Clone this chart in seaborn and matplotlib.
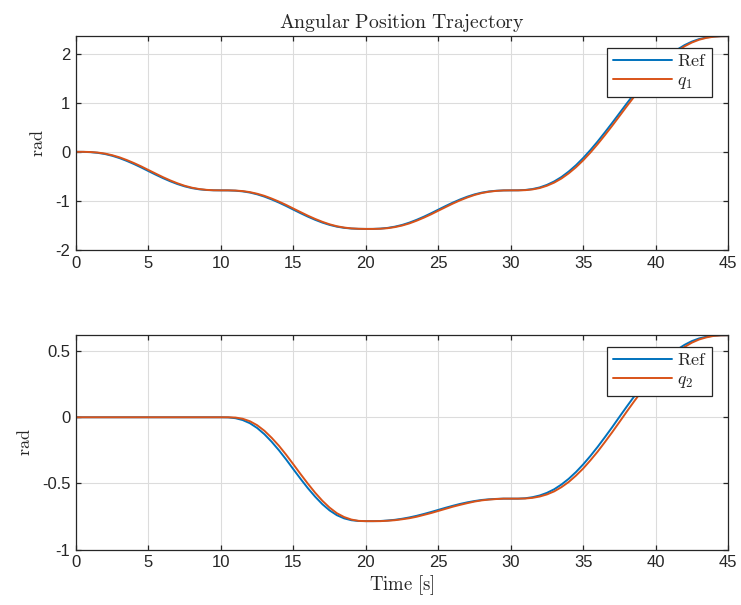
import matplotlib
matplotlib.use("Agg")
import matplotlib.pyplot as plt
import seaborn as sns
import pandas as pd
import numpy as np

# Sample times [s], every 0.5 s
time_s = np.arange(0, 45.5, 0.5)

# Joint 1: reference and measured angle [rad]
ref_q1 = [0.000, -0.001, -0.007, -0.021, -0.045, -0.081, -0.128, -0.185, -0.249, -0.319,
          -0.393, -0.466, -0.536, -0.600, -0.657, -0.704, -0.740, -0.764, -0.778, -0.784,
          -0.785, -0.786, -0.792, -0.806, -0.830, -0.866, -0.913, -0.970, -1.034, -1.104,
          -1.178, -1.251, -1.321, -1.385, -1.442, -1.489, -1.525, -1.549, -1.563, -1.569,
          -1.571, -1.570, -1.564, -1.550, -1.525, -1.490, -1.443, -1.386, -1.322, -1.252,
          -1.178, -1.105, -1.035, -0.971, -0.914, -0.867, -0.831, -0.807, -0.793, -0.786,
          -0.785, -0.784, -0.777, -0.758, -0.725, -0.673, -0.603, -0.513, -0.402, -0.273,
          -0.126, 0.037, 0.212, 0.398, 0.589, 0.786, 0.983, 1.174, 1.360, 1.535,
          1.698, 1.845, 1.974, 2.085, 2.175, 2.245, 2.297, 2.330, 2.349, 2.356,
          2.357]
q1 = [0.000, 0.000, -0.004, -0.015, -0.036, -0.069, -0.112, -0.167, -0.229, -0.297,
      -0.371, -0.444, -0.516, -0.582, -0.641, -0.692, -0.731, -0.758, -0.775, -0.783,
      -0.785, -0.785, -0.789, -0.800, -0.821, -0.854, -0.897, -0.952, -1.014, -1.082,
      -1.156, -1.229, -1.301, -1.367, -1.426, -1.477, -1.516, -1.543, -1.560, -1.568,
      -1.571, -1.571, -1.567, -1.556, -1.534, -1.502, -1.459, -1.404, -1.342, -1.274,
      -1.200, -1.127, -1.055, -0.989, -0.930, -0.879, -0.840, -0.813, -0.796, -0.787,
      -0.785, -0.785, -0.781, -0.766, -0.738, -0.691, -0.627, -0.543, -0.438, -0.315,
      -0.173, -0.014, 0.158, 0.341, 0.531, 0.727, 0.925, 1.117, 1.306, 1.484,
      1.651, 1.803, 1.938, 2.055, 2.151, 2.227, 2.284, 2.322, 2.345, 2.355,
      2.357]

# Joint 2: reference and measured angle [rad]
ref_q2 = [0.000, 0.000, 0.000, 0.000, 0.000, 0.000, 0.000, 0.000, 0.000, 0.000,
          0.000, 0.000, 0.000, 0.000, 0.000, 0.000, 0.000, 0.000, 0.000, 0.000,
          0.000, -0.001, -0.007, -0.021, -0.045, -0.081, -0.128, -0.185, -0.249, -0.319,
          -0.393, -0.466, -0.536, -0.600, -0.657, -0.704, -0.740, -0.764, -0.778, -0.784,
          -0.785, -0.785, -0.784, -0.780, -0.775, -0.767, -0.757, -0.745, -0.731, -0.716,
          -0.700, -0.684, -0.669, -0.655, -0.643, -0.633, -0.625, -0.620, -0.617, -0.615,
          -0.615, -0.615, -0.612, -0.604, -0.591, -0.571, -0.544, -0.508, -0.465, -0.414,
          -0.356, -0.292, -0.223, -0.150, -0.075, 0.003, 0.080, 0.155, 0.228, 0.297,
          0.361, 0.419, 0.470, 0.513, 0.548, 0.576, 0.596, 0.609, 0.617, 0.620,
          0.620]
q2 = [0.000, 0.000, 0.000, 0.000, 0.000, 0.000, 0.000, 0.000, 0.000, 0.000,
      0.000, 0.000, 0.000, 0.000, 0.000, 0.000, 0.000, 0.000, 0.000, 0.000,
      0.000, 0.000, -0.002, -0.011, -0.030, -0.060, -0.102, -0.155, -0.215, -0.283,
      -0.356, -0.430, -0.502, -0.570, -0.631, -0.683, -0.725, -0.754, -0.773, -0.783,
      -0.785, -0.785, -0.785, -0.782, -0.778, -0.771, -0.763, -0.752, -0.738, -0.724,
      -0.708, -0.692, -0.676, -0.662, -0.649, -0.637, -0.628, -0.622, -0.618, -0.615,
      -0.615, -0.615, -0.614, -0.609, -0.599, -0.583, -0.560, -0.528, -0.489, -0.441,
      -0.387, -0.325, -0.259, -0.187, -0.113, -0.036, 0.042, 0.118, 0.192, 0.264,
      0.331, 0.392, 0.446, 0.493, 0.532, 0.564, 0.588, 0.604, 0.615, 0.619,
      0.620]

x_ticks = [0, 5, 10, 15, 20, 25, 30, 35, 40, 45]
y_ticks_top = [-2, -1, 0, 1, 2]
y_ticks_bottom = [-1, -0.5, 0, 0.5]
y_tick_labels_bottom = ["-1", "-0.5", "0", "0.5"]

BLUE = "#0072BD"
ORANGE = "#D95319"
AX_COLOR = "#262626"

sns.set_theme(style="whitegrid")
plt.rcParams["font.family"] = ["Liberation Sans", "DejaVu Sans"]
plt.rcParams["mathtext.fontset"] = "cm"
plt.rcParams["axes.unicode_minus"] = False

fig = plt.figure(figsize=(7.41, 6.05), dpi=100)
ax_top = fig.add_axes([0.1026, 0.5868, 0.880, 0.3537])
ax_bot = fig.add_axes([0.1026, 0.0916, 0.880, 0.3547])

df1 = pd.DataFrame({"t": time_s, "Ref": ref_q1, "q": q1})
df2 = pd.DataFrame({"t": time_s, "Ref": ref_q2, "q": q2})

for ax, df, qlabel in [(ax_top, df1, r"$q_1$"), (ax_bot, df2, r"$q_2$")]:
    sns.lineplot(data=df, x="t", y="Ref", ax=ax, color=BLUE, lw=1.4, label=r"$\mathrm{Ref}$")
    sns.lineplot(data=df, x="t", y="q", ax=ax, color=ORANGE, lw=1.4, label=qlabel)
    ax.set_facecolor("white")
    ax.set_xlim(0, 45)
    ax.set_xticks(x_ticks)
    ax.grid(True, color="#dcdcdc", lw=0.8)
    for s in ax.spines.values():
        s.set_visible(True)
        s.set_color(AX_COLOR)
        s.set_linewidth(0.9)
    ax.tick_params(direction="in", length=3.5, width=0.9, color=AX_COLOR,
                   labelcolor=AX_COLOR, labelsize=12, top=True, right=True,
                   bottom=True, left=True, pad=4)
    ax.set_xlabel("")
    ax.set_ylabel(r"$\mathrm{rad}$", fontsize=13, color=AX_COLOR, labelpad=6)
    leg = ax.legend(loc="upper right", bbox_to_anchor=(0.9755, 0.946),
                    fontsize=13, handlelength=3.3, handletextpad=0.25,
                    labelspacing=0.12, borderpad=0.3, borderaxespad=0.0,
                    fancybox=False, frameon=True, framealpha=1.0)
    leg.get_frame().set_edgecolor(AX_COLOR)
    leg.get_frame().set_linewidth(0.9)
    for h in leg.get_lines():
        h.set_linewidth(1.4)

ax_top.set_ylim(-2, 2.36)
ax_top.set_yticks(y_ticks_top)
ax_top.set_title(r"$\mathrm{Angular\ Position\ Trajectory}$", fontsize=14.3,
                 color=AX_COLOR, pad=6)

ax_bot.set_ylim(-1, 0.622)
ax_bot.set_yticks(y_ticks_bottom)
ax_bot.set_yticklabels(y_tick_labels_bottom)
ax_bot.set_xlabel(r"$\mathrm{Time\ [s]}$", fontsize=13.5, color=AX_COLOR, labelpad=2)

fig.savefig("out.png", dpi=100, facecolor="white")
